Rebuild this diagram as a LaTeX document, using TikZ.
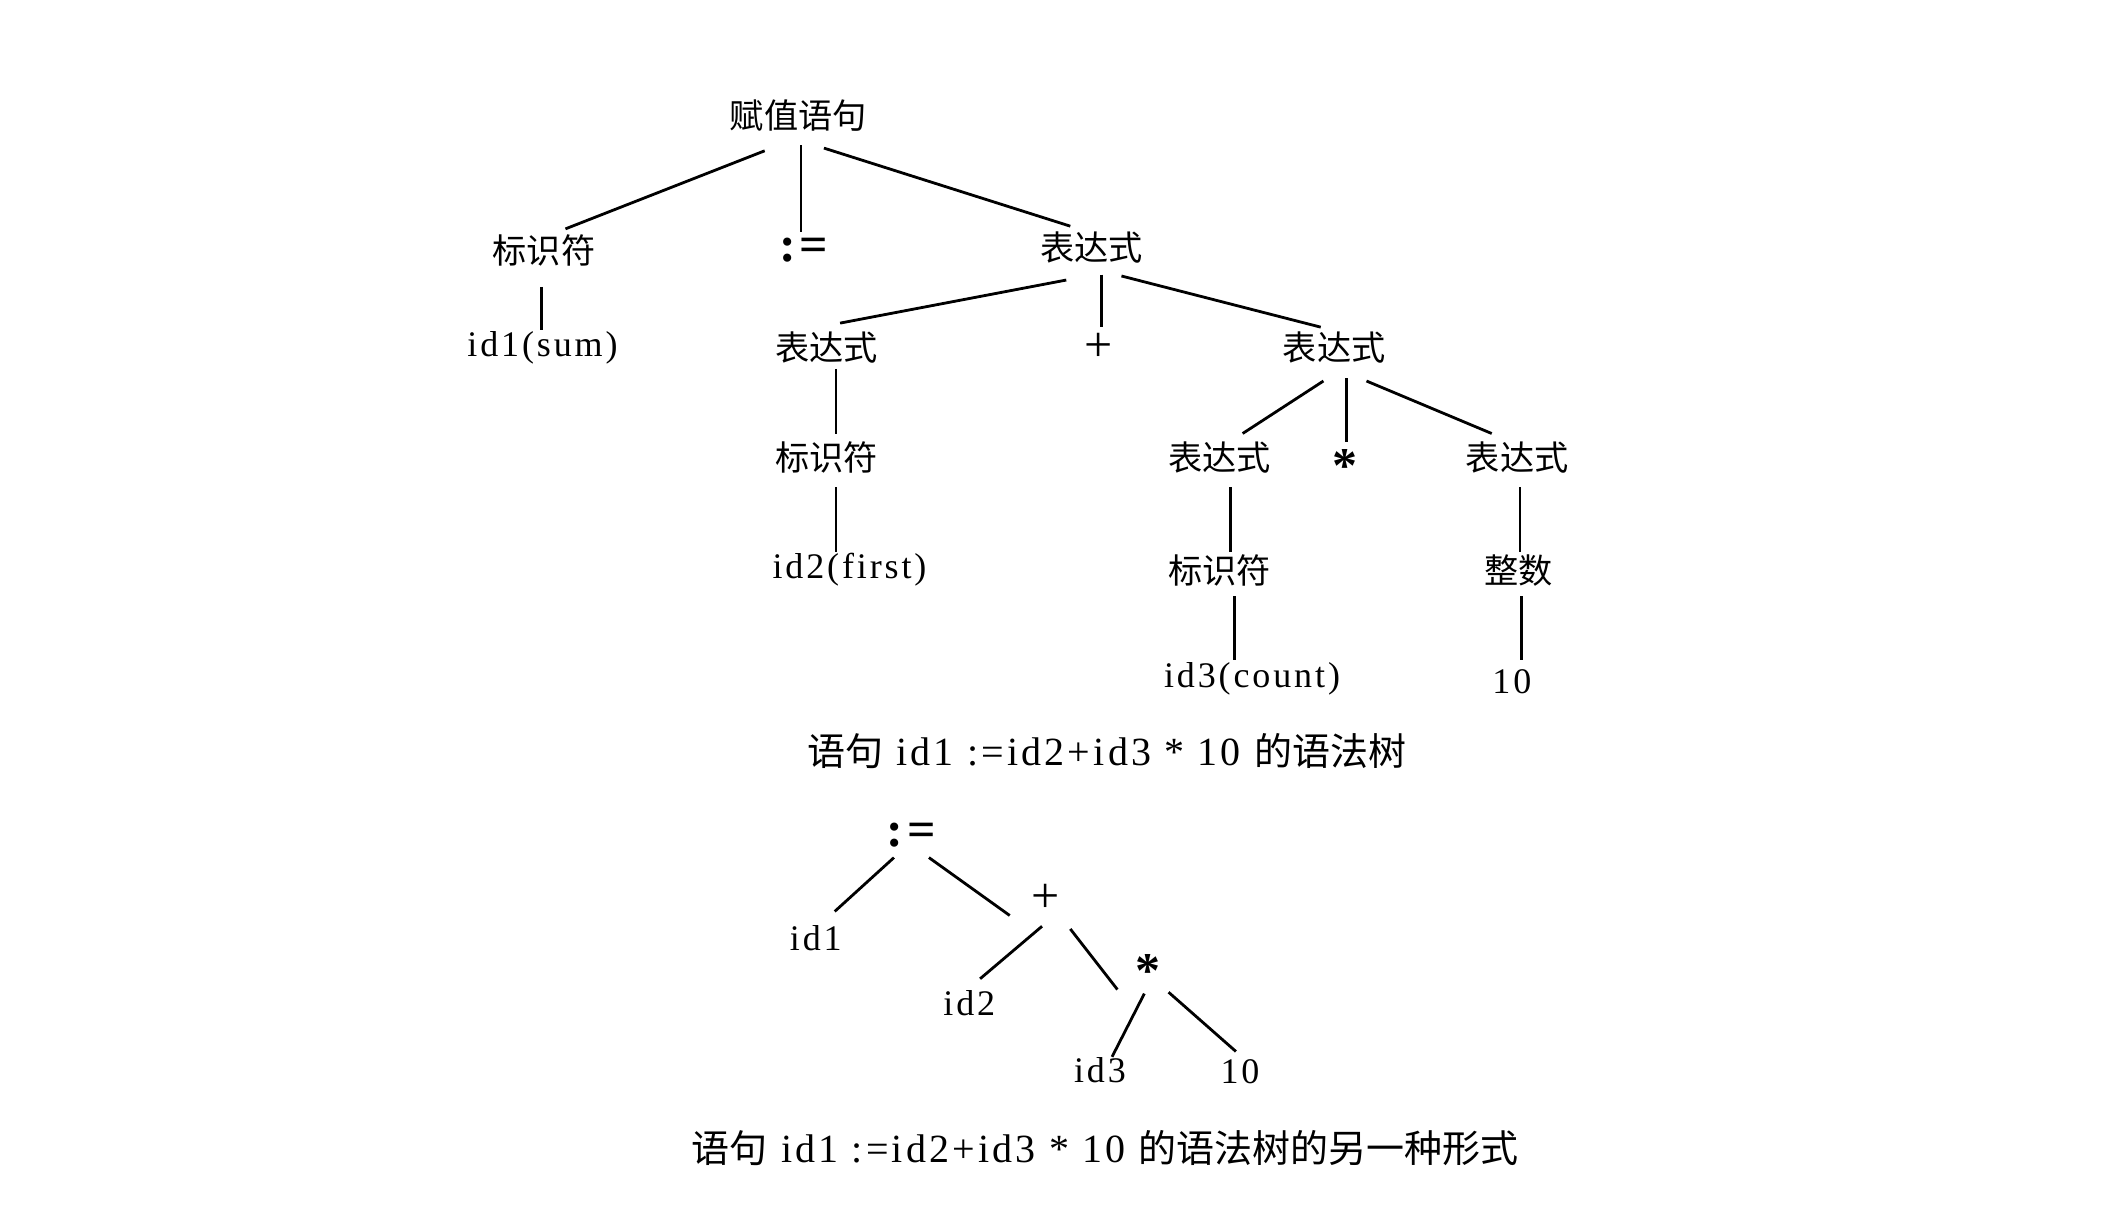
\documentclass[tikz,border=0pt]{standalone}
\usepackage{fontspec}
\usepackage{tikz}
\setmainfont{Liberation Serif}[LetterSpace=8]
\newfontfamily\cjk{Noto Sans CJK SC}[Scale=0.95]

\begin{document}
\begin{tikzpicture}[x=0.673pt,y=-0.673pt,
        lbl/.style={font=\fontsize{18}{21}\selectfont, inner sep=0pt},
        op/.style={font=\fontsize{25}{28}\selectfont\bfseries, inner sep=0pt},
        captext/.style={font=\fontsize{20}{24}\selectfont, inner sep=0pt},
        br/.style={line width=1.4pt}]
        \useasboundingbox (0,0) rectangle (1568,899);
        % syntax tree
        \node[lbl] (root)    at (593,86)  {\cjk 赋值语句};
        \node[lbl] (ident)   at (404,186) {\cjk 标识符};
        \node[op]  (assign)  at (597,186) {:=};
        \node[lbl] (expr)    at (811,184) {\cjk 表达式};
        \node[lbl] (idsum)   at (403,258) {id1(sum)};
        \node[lbl] (exprl)   at (614,258) {\cjk 表达式};
        \node[op]  (plus)    at (816,258) {\mdseries +};
        \node[lbl] (exprr)   at (991,258) {\cjk 表达式};
        \node[lbl] (identl)  at (614,340) {\cjk 标识符};
        \node[lbl] (exprrl)  at (906,340) {\cjk 表达式};
        \node[op]  (times)   at (999,346) {*};
        \node[lbl] (exprrr)  at (1127,340) {\cjk 表达式};
        \node[lbl] (idfirst) at (631,423) {id2(first)};
        \node[lbl] (identr)  at (906,424) {\cjk 标识符};
        \node[lbl] (intnum)  at (1128,424) {\cjk 整数};
        \node[lbl] (idcount) at (930,504) {id3(count)};
        \node[lbl] (ten)     at (1123,506) {10};
        \node[captext] (captop) at (822,558) {{\cjk 语句} id1 :=id2+id3 * 10 {\cjk 的语法树}};

        \draw[br] ([shift={(-25,26)}]root.center) -- ([shift={(16,-16)}]ident.center);
        \draw[br] ([shift={(2,22)}]root.center) -- ([shift={(-2,-14)}]assign.center);
        \draw[br] ([shift={(19,24)}]root.center) -- ([shift={(-16,-16)}]expr.center);
        \draw[br] ([shift={(-2,27)}]ident.center) -- ([shift={(-1,-13)}]idsum.center);
        \draw[br] ([shift={(-19,24)}]expr.center) -- ([shift={(10,-18)}]exprl.center);
        \draw[br] ([shift={(7,20)}]expr.center) -- ([shift={(2,-15)}]plus.center);
        \draw[br] ([shift={(22,21)}]expr.center) -- ([shift={(-10,-15)}]exprr.center);
        \draw[br] ([shift={(7,16)}]exprl.center) -- ([shift={(7,-18)}]identl.center);
        \draw[br] ([shift={(-8,25)}]exprr.center) -- ([shift={(17,-18)}]exprrl.center);
        \draw[br] ([shift={(9,23)}]exprr.center) -- ([shift={(1,-18)}]times.center);
        \draw[br] ([shift={(24,25)}]exprr.center) -- ([shift={(-19,-18)}]exprrr.center);
        \draw[br] ([shift={(7,22)}]identl.center) -- ([shift={(-10,-13)}]idfirst.center);
        \draw[br] ([shift={(8,22)}]exprrl.center) -- ([shift={(8,-14)}]identr.center);
        \draw[br] ([shift={(2,22)}]exprrr.center) -- ([shift={(1,-14)}]intnum.center);
        \draw[br] ([shift={(11,19)}]identr.center) -- ([shift={(-13,-14)}]idcount.center);
        \draw[br] ([shift={(2,19)}]intnum.center) -- ([shift={(7,-16)}]ten.center);

        % the other form
        \node[op]  (basg)   at (677,620) {:=};
        \node[lbl] (bid1)   at (606,697) {id1};
        \node[op]  (bplus)  at (777,667) {\mdseries +};
        \node[lbl] (bid2)   at (720,745) {id2};
        \node[op]  (btimes) at (853,721) {*};
        \node[lbl] (bid3)   at (817,795) {id3};
        \node[lbl] (bten)   at (921,796) {10};
        \node[captext] (capbot) at (821,853) {{\cjk 语句} id1 :=id2+id3 * 10 {\cjk 的语法树的另一种形式}};

        \draw[br] ([shift={(-13,17)}]basg.center) -- ([shift={(14,-20)}]bid1.center);
        \draw[br] ([shift={(13,17)}]basg.center) -- ([shift={(-27,13)}]bplus.center);
        \draw[br] ([shift={(-3,21)}]bplus.center) -- ([shift={(8,-18)}]bid2.center);
        \draw[br] ([shift={(18,23)}]bplus.center) -- ([shift={(-23,14)}]btimes.center);
        \draw[br] ([shift={(-3,17)}]btimes.center) -- ([shift={(9,-10)}]bid3.center);
        \draw[br] ([shift={(15,16)}]btimes.center) -- ([shift={(-3,-15)}]bten.center);
\end{tikzpicture}
\end{document}
